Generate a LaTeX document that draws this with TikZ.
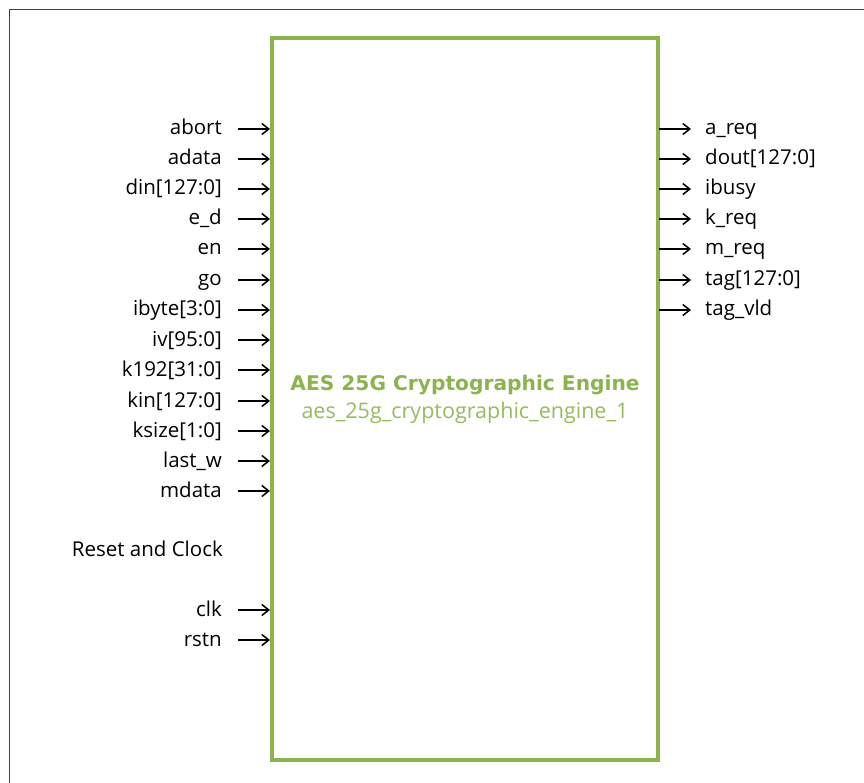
\documentclass[tikz,border=0pt]{standalone}
\usepackage{fontspec}
\setmainfont{Open Sans}
\newfontfamily\titlefont{DejaVu Sans}
\usetikzlibrary{arrows.meta}
\definecolor{aesgreen}{HTML}{8BB44C}
\definecolor{framegray}{HTML}{404040}
\begin{document}
\begin{tikzpicture}[x=1pt,y=-1pt,
  inlbl/.style={anchor=base east,inner sep=0pt,font=\fontsize{20.5}{24}\selectfont},
  outlbl/.style={anchor=base west,inner sep=0pt,font=\fontsize{20.5}{24}\selectfont},
  sig/.style={draw=black,line width=1.5pt,-{Straight Barb[length=7pt,width=11pt,line width=1.5pt]}},
]
\useasboundingbox (0,0) rectangle (864,783);
\fill[white] (0,0) rectangle (864,783);
\draw[framegray,line width=1.5pt] (9.5,790) -- (9.5,9.5) -- (870,9.5);
\node[draw=aesgreen,line width=4pt,minimum width=385.5pt,minimum height=722pt,inner sep=0pt] (box) at (464.75,399) {};
\node[font=\titlefont\bfseries\fontsize{20.2}{24}\selectfont,text=aesgreen,inner sep=0pt,anchor=base] (title) at (465,390.5) {AES 25G Cryptographic Engine};
\node[font=\fontsize{21.5}{24}\selectfont,text=aesgreen!90!white,inner sep=0pt,anchor=base] (sub) at (465,418) {aes\_25g\_cryptographic\_engine\_1};
% inputs
\foreach \n/\t/\y in {abort/abort/129,adata/adata/159,din/din[127:0]/189,ed/e\_d/219,en/en/249,go/go/280,ibyte/ibyte[3:0]/310,iv/iv[95:0]/340,kx/k192[31:0]/370,kin/kin[127:0]/401,ksize/ksize[1:0]/431,lastw/last\_w/461,mdata/mdata/491,clk/clk/610,rstn/rstn/640}{
  \node[inlbl] (l\n) at (222,\y+6) {\t};
  \coordinate (s\n) at (238,\y);
  \coordinate (e\n) at (270,\y);
  \draw[sig] (s\n) -- (e\n);
}
\node[inlbl] (rc) at (223,556) {Reset and Clock};
% outputs
\foreach \n/\t/\y in {areq/a\_req/129,dout/dout[127:0]/159,ibusy/ibusy/189,kreq/k\_req/219,mreq/m\_req/249,tag/tag[127:0]/280,tagvld/tag\_vld/310}{
  \coordinate (so\n) at (659,\y);
  \coordinate (eo\n) at (691,\y);
  \draw[sig] (so\n) -- (eo\n);
  \node[outlbl] (r\n) at (705,\y+6) {\t};
}
\end{tikzpicture}
\end{document}
